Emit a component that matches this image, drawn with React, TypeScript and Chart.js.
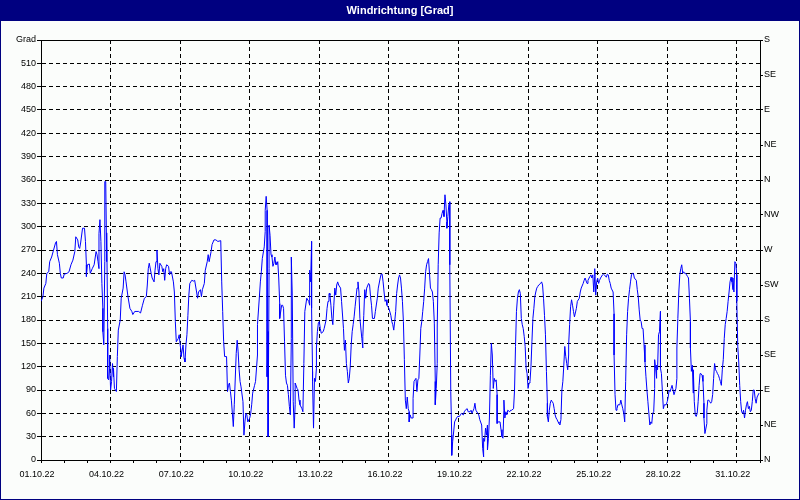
import React, { useEffect, useRef } from 'react';
import { Chart, registerables } from 'chart.js';

Chart.register(...registerables);

// ---- data (hours since 01.10.22 00:00, wind direction in degrees) ----
const titleText = 'Windrichtung [Grad]';
const yUnitLabel = 'Grad';
const dateLabels = ['01.10.22', '04.10.22', '07.10.22', '10.10.22', '13.10.22', '16.10.22', '19.10.22', '22.10.22', '25.10.22', '28.10.22', '31.10.22'];
const compassLabels = ['N', 'NE', 'E', 'SE', 'S', 'SW', 'W', 'NW', 'N', 'NE', 'E', 'SE', 'S'];

const hoursFromStart = [
  0, 2, 3, 5, 6, 8, 9, 11, 13, 15, 16, 17, 19, 20, 21, 23, 24, 27, 29, 31, 33, 35, 36, 38, 39, 40, 41, 43, 45, 46, 47, 47, 48, 50, 51, 53, 55, 57, 58, 59, 60, 60, 61, 62, 63, 64, 64, 65, 66, 66, 67, 68, 68, 69, 69, 70, 71, 71, 72, 73, 74, 75, 75, 76, 78, 79, 80, 82, 83, 85, 86,
  87, 88, 90, 92, 94, 95, 97, 101, 103, 105, 107, 109, 110, 111, 112, 114, 115, 117, 118, 119, 120, 121, 122, 123, 125, 126, 127, 128, 129, 130, 132, 133, 134, 135, 137, 138, 139, 140, 142, 143, 144, 145, 145, 147, 148, 149, 150, 151, 152, 153, 154, 156, 158, 159, 161, 162, 163, 165, 166, 167, 169, 170, 172, 173, 174, 176, 177, 179, 181,
  183, 186, 187, 188, 189, 190, 192, 193, 194, 195, 196, 197, 198, 199, 200, 202, 203, 204, 205, 206, 207, 209, 210, 211, 212, 213, 214, 216, 217, 218, 219, 221, 222, 224, 224, 226, 227, 228, 229, 231, 232, 232, 233, 234, 234, 234, 235, 235, 236, 236, 237, 238, 239, 240, 241, 242, 243, 243, 244, 245, 246, 247, 247, 249, 250, 251, 252, 253, 254, 255, 256, 257, 258, 259, 259, 260, 261, 262, 263, 263, 265, 266, 267, 268, 270, 271, 272, 273,
  275, 277, 278, 278, 279, 280, 280, 281, 281, 282, 283, 284, 285, 285, 286, 287, 288, 289, 290, 292, 293, 295, 296, 297, 298, 299, 299, 300, 301, 302, 303, 304, 305, 306, 307, 308, 310, 311, 313, 314, 315, 316, 317, 318, 319, 320, 321, 322, 323, 324, 325, 327, 328, 329, 330, 332, 333, 333, 334, 335, 336, 337, 339, 340, 341, 342, 343, 345, 346, 348, 349, 351, 352, 353, 354, 355, 356, 357, 358, 360, 362, 363, 364, 365, 366,
  367, 368, 369, 370, 371, 372, 373, 374, 375, 376, 377, 378, 379, 380, 381, 381, 382, 383, 385, 385, 386, 388, 389, 390, 391, 392, 393, 394, 395, 396, 397, 398, 399, 400, 401, 402, 403, 404, 405, 406, 407, 408, 408, 409, 410, 410, 411, 412, 413, 414, 415, 416, 417, 418, 419, 420, 420, 421, 422, 423, 423, 424, 425, 425, 426, 427, 428, 430, 431, 433, 434, 435, 437, 438, 439, 441, 442, 444, 445, 446, 448, 449, 450, 452, 453, 454, 456, 457, 458, 458, 459,
  460, 461, 462, 462, 463, 464, 465, 466, 467, 468, 469, 470, 471, 472, 472, 473, 475, 476, 477, 478, 479, 479, 480, 481, 482, 483, 485, 486, 487, 489, 490, 491, 492, 493, 494, 495, 496, 497, 498, 499, 500, 501, 502, 503, 504, 505, 506, 507, 508, 509, 510, 511, 512, 513, 514, 515, 517, 518, 519, 520, 521, 522, 523, 524, 524, 525, 526, 527, 528, 529, 530, 531, 532, 533, 534, 535, 536, 537, 538, 539, 540, 541, 542, 543, 544, 545, 546, 546, 547, 548, 549, 550, 551, 552,
  554, 555, 557, 558, 559, 561, 562, 563, 565, 566, 568, 569, 570, 571, 572, 573, 573, 574, 575, 576, 577, 578, 579, 581, 582, 583, 585, 586, 587, 588, 589, 590, 592, 593, 593, 594, 595, 596, 597, 599, 600, 601, 602, 603, 604, 605, 606, 607, 608, 609, 610, 611, 612, 613, 614, 616, 617, 618, 619, 620, 621, 622, 623, 624, 625, 626, 627, 628, 629, 630, 631, 632, 633, 634, 635, 635, 636, 637, 637, 638, 639, 640, 641, 641, 642, 643, 644, 645,
  647, 648, 649, 650, 651, 652, 653, 655, 656, 657, 658, 658, 659, 660, 661, 662, 663, 664, 665, 666, 667, 668, 669, 670, 671, 672, 672, 673, 674, 675, 675, 676, 677, 678, 679, 680, 681, 682, 683, 684, 685, 686, 686, 687, 689, 689, 690, 691, 692, 693, 694, 695, 696, 697, 698, 699, 700, 701, 702, 703, 704, 705, 706, 707, 708, 709, 710, 711, 712, 713, 714, 715, 716, 716, 717, 718, 719, 720, 720, 721, 722, 723, 724, 725, 726, 727, 728, 729, 730, 731, 732, 733, 734, 735, 736, 737, 738, 739, 740, 741, 743,
];

const directionDeg = [
  204, 210, 221, 227, 240, 242, 255, 261, 270, 279, 281, 264, 253, 240, 234, 234, 239, 240, 242, 251, 257, 268, 287, 283, 274, 272, 279, 298, 298, 281, 251, 236, 251, 252, 240, 246, 251, 268, 264, 255, 246, 291, 309, 281, 227, 195, 165, 148, 255, 358, 358, 255, 292, 169, 105, 103, 118, 135, 90, 101, 124, 107, 118, 92, 88, 133, 167, 180, 208, 221, 242,
  238, 229, 210, 195, 191, 187, 191, 191, 189, 199, 208, 210, 225, 246, 253, 240, 234, 229, 244, 255, 270, 246, 238, 253, 249, 242, 246, 231, 246, 251, 249, 238, 242, 242, 229, 216, 178, 152, 156, 161, 148, 139, 133, 148, 131, 126, 148, 161, 186, 212, 227, 231, 230, 231, 216, 208, 216, 219, 210, 219, 227, 244, 255, 264, 255, 268, 277, 283, 283,
  281, 282, 229, 191, 152, 133, 133, 88, 96, 99, 88, 77, 60, 43, 71, 137, 154, 139, 116, 101, 94, 75, 32, 49, 60, 58, 49, 54, 60, 71, 86, 96, 101, 135, 174, 210, 229, 242, 259, 274, 294, 321, 339, 321, 289, 107, 165, 30, 246, 302, 289, 264, 261, 249, 253, 261, 251, 255, 251, 255, 234, 201, 182, 199, 199, 195, 152, 109, 99, 96, 84, 69, 58, 156, 261, 212, 75, 41, 71, 99, 92, 90, 77, 71, 66, 62, 124, 191,
  208, 204, 199, 244, 229, 281, 195, 114, 101, 41, 105, 101, 118, 144, 165, 176, 178, 169, 163, 165, 169, 180, 195, 204, 214, 214, 212, 199, 182, 174, 199, 221, 212, 225, 229, 225, 221, 204, 169, 141, 154, 124, 114, 99, 105, 120, 148, 165, 174, 184, 197, 221, 229, 216, 182, 156, 144, 159, 186, 219, 208, 221, 227, 225, 210, 199, 182, 182, 191, 208, 221, 234, 239, 239, 229, 216, 204, 206, 199, 195, 186, 178, 174, 167, 178,
  191, 214, 225, 234, 238, 234, 221, 204, 178, 129, 77, 66, 81, 66, 62, 49, 58, 54, 54, 79, 101, 105, 88, 103, 105, 135, 169, 178, 191, 204, 221, 242, 251, 255, 259, 240, 221, 219, 216, 204, 176, 101, 71, 92, 124, 171, 251, 292, 311, 311, 317, 321, 313, 341, 328, 306, 298, 313, 328, 332, 251, 88, 32, 6, 24, 36, 49, 54, 56, 56, 58, 60, 58, 62, 64, 66, 62, 62, 64, 60, 66, 73, 64, 60, 58, 52, 45, 15, 4, 28, 24,
  41, 32, 45, 13, 28, 54, 109, 150, 135, 92, 105, 101, 103, 84, 47, 49, 49, 39, 30, 28, 64, 77, 54, 62, 58, 64, 62, 64, 64, 66, 90, 146, 191, 208, 216, 219, 214, 182, 174, 169, 159, 146, 118, 111, 92, 99, 101, 120, 152, 182, 195, 210, 216, 221, 223, 225, 227, 229, 225, 208, 186, 161, 114, 73, 56, 49, 64, 73, 77, 75, 73, 66, 58, 54, 52, 49, 47, 45, 52, 90, 101, 122, 146, 133, 124, 116, 135, 148, 174, 197, 206, 199, 191, 184,
  195, 204, 208, 216, 221, 227, 231, 234, 227, 231, 236, 238, 234, 238, 216, 236, 246, 212, 229, 234, 227, 231, 234, 238, 239, 238, 235, 239, 238, 231, 227, 221, 216, 188, 135, 84, 64, 66, 71, 71, 77, 71, 66, 60, 49, 101, 161, 191, 208, 219, 229, 238, 240, 240, 234, 231, 219, 210, 193, 180, 178, 169, 169, 148, 126, 107, 90, 75, 60, 45, 49, 47, 60, 62, 92, 129, 118, 105, 122, 116, 161, 165, 191, 118, 111, 88, 66, 71,
  71, 75, 81, 90, 88, 92, 96, 84, 88, 92, 105, 144, 182, 216, 238, 246, 251, 240, 242, 240, 240, 238, 236, 234, 208, 178, 144, 114, 122, 86, 116, 75, 58, 56, 60, 75, 96, 111, 111, 109, 101, 73, 54, 34, 47, 64, 77, 77, 75, 73, 75, 84, 105, 124, 116, 114, 111, 109, 105, 101, 96, 116, 129, 156, 174, 182, 191, 204, 216, 229, 235, 229, 219, 234, 216, 255, 253, 238, 204, 146, 126, 96, 75, 62, 60, 64, 54, 64, 71, 75, 66, 69, 62, 64, 75, 90, 90, 79, 73, 81, 86,
];

const HOURS_TOTAL = 744;
const HOURS_PER_LABEL = 72;

const framePlugin = {
  id: 'frame',
  beforeDraw(chart: any) {
    const { ctx, width, height } = chart;
    ctx.save();
    ctx.fillStyle = '#fbfdfb';
    ctx.fillRect(0, 0, width, height);
    ctx.fillStyle = '#000080';
    ctx.fillRect(0, 0, width, 21);
    ctx.strokeStyle = '#000080';
    ctx.lineWidth = 1;
    ctx.strokeRect(0.5, 0.5, width - 1, height - 1);
    ctx.restore();
  },
  afterDraw(chart: any) {
    const { ctx, chartArea } = chart;
    ctx.save();
    ctx.strokeStyle = '#000';
    ctx.lineWidth = 1;
    ctx.beginPath();
    const y = Math.round(chartArea.top) + 0.5;
    ctx.moveTo(Math.round(chartArea.left), y);
    ctx.lineTo(Math.round(chartArea.right) + 1, y);
    ctx.stroke();
    ctx.restore();
  },
};

export default function App() {
  const ref = useRef<HTMLCanvasElement>(null);

  useEffect(() => {
    if (!ref.current) return;
    Chart.defaults.font.family = "'Liberation Sans', Arial, sans-serif";
    Chart.defaults.font.size = 9;
    Chart.defaults.color = '#000';

    const points = hoursFromStart.map((h, i) => ({ x: h, y: directionDeg[i] }));

    const chart = new Chart(ref.current, {
      type: 'line',
      data: {
        datasets: [
          {
            data: points,
            borderColor: '#0000ff',
            borderWidth: 1,
            pointRadius: 0,
            tension: 0,
            fill: false,
            xAxisID: 'x',
            yAxisID: 'y',
          },
        ],
      },
      options: {
        responsive: false,
        maintainAspectRatio: false,
        devicePixelRatio: 1,
        animation: false,
        events: [],
        layout: { padding: 0 },
        plugins: {
          legend: { display: false },
          tooltip: { enabled: false },
          title: {
            display: true,
            text: titleText,
            color: '#ffffff',
            font: { size: 11, weight: 'bold', family: "'Liberation Sans', Arial, sans-serif" },
            padding: { top: 4, bottom: 22.8 },
          },
        },
        scales: {
          x: {
            type: 'linear',
            position: 'bottom',
            min: 0,
            max: HOURS_TOTAL,
            ticks: {
              stepSize: 24,
              autoSkip: false,
              maxRotation: 0,
              minRotation: 0,
              labelOffset: -4,
              padding: 6,
              color: '#000',
              font: { size: 9 },
              callback: (value: any) =>
                Number(value) % HOURS_PER_LABEL === 0 ? dateLabels[Number(value) / HOURS_PER_LABEL] ?? '' : '',
            },
            grid: {
              color: (ctx: any) =>
                ctx.tick && ctx.tick.value % HOURS_PER_LABEL === 0 ? '#000' : 'rgba(0,0,0,0)',
              tickColor: '#000',
              tickLength: 3,
              lineWidth: 1,
            },
            border: { display: true, color: '#000', width: 1, dash: [4, 3] },
            afterFit: (scale: any) => {
              scale.height = 40;
            },
          },
          y: {
            type: 'linear',
            position: 'left',
            min: 0,
            max: 540,
            ticks: {
              stepSize: 30,
              autoSkip: false,
              padding: 1,
              color: '#000',
              font: { size: 9 },
              callback: (value: any) => (Number(value) === 540 ? yUnitLabel : String(value)),
            },
            grid: {
              color: '#000',
              tickColor: '#000',
              tickLength: 4,
              lineWidth: 1,
            },
            border: { display: true, color: '#000', width: 1, dash: [4, 3] },
            afterFit: (scale: any) => {
              scale.width = 41;
            },
          },
          y2: {
            type: 'linear',
            position: 'right',
            min: 0,
            max: 540,
            ticks: {
              stepSize: 45,
              autoSkip: false,
              padding: 1,
              color: '#000',
              font: { size: 9 },
              callback: (value: any) => compassLabels[Math.round(Number(value) / 45)] ?? '',
            },
            grid: {
              drawOnChartArea: false,
              tickColor: '#000',
              tickLength: 3,
            },
            border: { display: true, color: '#000', width: 1 },
            afterFit: (scale: any) => {
              scale.width = 40;
            },
          },
        },
      },
      plugins: [framePlugin],
    } as any);

    return () => chart.destroy();
  }, []);

  return (
    <div style={{ position: 'absolute', left: 0, top: 0, width: 800, height: 500 }}>
      <canvas ref={ref} width={800} height={500} style={{ display: 'block', width: 800, height: 500 }} />
    </div>
  );
}
